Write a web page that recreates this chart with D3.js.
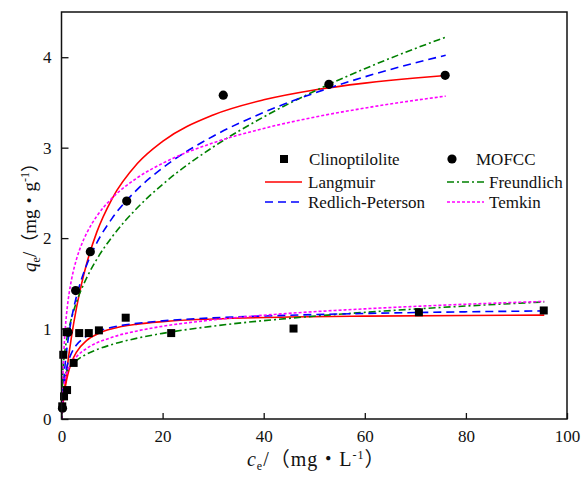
<!DOCTYPE html>
<html><head><meta charset="utf-8">
<script src="https://cdn.jsdelivr.net/npm/d3@7"></script>
<style>body{margin:0;background:#fff}svg{display:block}svg text{font-family:"Liberation Serif","Times New Roman","DejaVu Serif",serif;fill:#111}</style>
</head><body><svg id="c" width="582" height="481"></svg>
<script>
// Measured points
const clinoX = [0.15, 0.5, 0.35, 1.1, 1.0, 2.4, 3.5, 5.4, 7.4, 12.7, 21.7, 45.9, 70.7, 95.4];
const clinoY = [0.14, 0.25, 0.71, 0.32, 0.96, 0.62, 0.95, 0.95, 0.98, 1.12, 0.95, 1.00, 1.18, 1.20];
const mofX = [0.2, 1.3, 2.8, 5.7, 12.9, 32.0, 52.9, 75.9];
const mofY = [0.12, 0.96, 1.42, 1.85, 2.41, 3.58, 3.70, 3.80];

// Fitted curves (MOFCC, upper set)
const upX = [0.1, 0.2, 0.5, 1, 1.5, 2, 3, 4, 5, 7, 10, 15, 20, 30, 40, 50, 60, 70, 76];
const upLangmuir = [0.058, 0.115, 0.275, 0.516, 0.729, 0.918, 1.240, 1.503, 1.723, 2.069, 2.435, 2.824, 3.069, 3.361, 3.529, 3.638, 3.714, 3.771, 3.798];
const upRP = [0.125, 0.228, 0.468, 0.748, 0.952, 1.114, 1.363, 1.554, 1.707, 1.949, 2.218, 2.539, 2.776, 3.127, 3.390, 3.603, 3.783, 3.938, 4.022];
const upFreundX = [0.02, 0.05, 0.1, 0.2, 0.5, 1, 1.5, 2, 3, 4, 5, 7, 10, 15, 20, 30, 40, 50, 60, 70, 76];
const upFreund = [0.208, 0.291, 0.375, 0.483, 0.675, 0.869, 1.008, 1.119, 1.298, 1.441, 1.563, 1.768, 2.013, 2.335, 2.594, 3.007, 3.340, 3.624, 3.873, 4.097, 4.222];
const upTemkinX = [0.124, 0.15, 0.2, 0.3, 0.5, 0.75, 1, 1.5, 2, 3, 4, 5, 7, 10, 15, 20, 30, 40, 50, 60, 70, 76];
const upTemkin = [0, 0.107, 0.267, 0.492, 0.776, 1.002, 1.162, 1.387, 1.547, 1.773, 1.933, 2.057, 2.244, 2.442, 2.667, 2.827, 3.053, 3.213, 3.337, 3.438, 3.524, 3.570];

// Fitted curves (Clinoptilolite, lower set)
const loX = [0.1, 0.3, 0.6, 1, 1.5, 2, 3, 5, 7.5, 10, 15, 20, 30, 45, 60, 80, 95.5];
const loLangmuir = [0.064, 0.173, 0.302, 0.430, 0.544, 0.628, 0.743, 0.870, 0.951, 0.998, 1.049, 1.077, 1.106, 1.127, 1.137, 1.145, 1.149];
const loRPX = [0.1, 0.2, 0.5, 1, 1.5, 2, 3, 4, 5, 7, 10, 15, 20, 30, 45, 60, 80, 95.5];
const loRP = [0.110, 0.198, 0.382, 0.558, 0.662, 0.732, 0.822, 0.877, 0.916, 0.967, 1.014, 1.058, 1.085, 1.118, 1.147, 1.167, 1.185, 1.195];
const loFreundX = [0.005, 0.02, 0.05, 0.1, 0.2, 0.5, 1, 1.5, 2, 3, 5, 7, 10, 15, 20, 30, 45, 60, 80, 95.5];
const loFreund = [0.180, 0.238, 0.286, 0.328, 0.377, 0.453, 0.520, 0.564, 0.597, 0.648, 0.718, 0.767, 0.824, 0.894, 0.947, 1.027, 1.113, 1.179, 1.249, 1.294];
const loTemkinX = [0.059, 0.1, 0.2, 0.5, 1, 2, 3, 5, 10, 15, 20, 30, 45, 60, 80, 95.5];
const loTemkin = [0, 0.093, 0.214, 0.376, 0.498, 0.620, 0.691, 0.781, 0.903, 0.974, 1.025, 1.096, 1.168, 1.218, 1.269, 1.300];

const xTicks = [0, 20, 40, 60, 80, 100];
const yTicks = [0, 1, 2, 3, 4];

const SERIF = '"Liberation Serif","Times New Roman","DejaVu Serif",serif';
const CJK = '"Noto Sans CJK SC","Noto Sans CJK JP",sans-serif';

const svg = d3.select("#c");
const L = 61.5, R = 567, T = 12, B = 419;
const x = d3.scaleLinear().domain([0, 100]).range([L, R]);
const y = d3.scaleLinear().domain([0, 4.5]).range([B, T]);

svg.append("defs").append("clipPath").attr("id", "clip")
  .append("rect").attr("x", L).attr("y", T).attr("width", R - L).attr("height", B - T);

const zip = (xs, ys) => xs.map((v, i) => [v, ys[i]]);
const line = d3.line().x(d => x(d[0])).y(d => y(d[1])).curve(d3.curveMonotoneX);

const styles = {
  lang: {stroke: "#ff0000", dash: null},
  freund: {stroke: "#008000", dash: "7,3,2,3"},
  rp: {stroke: "#0000ff", dash: "8,5"},
  temkin: {stroke: "#ff00ff", dash: "3,2"}
};
const curves = [
  [upX, upLangmuir, "lang"], [upFreundX, upFreund, "freund"], [upX, upRP, "rp"], [upTemkinX, upTemkin, "temkin"],
  [loX, loLangmuir, "lang"], [loFreundX, loFreund, "freund"], [loRPX, loRP, "rp"], [loTemkinX, loTemkin, "temkin"]
];
const g = svg.append("g").attr("clip-path", "url(#clip)");
curves.forEach(([xs, ys, k]) => {
  g.append("path").attr("d", line(zip(xs, ys))).attr("fill", "none")
    .attr("stroke", styles[k].stroke).attr("stroke-width", 1.6)
    .attr("stroke-dasharray", styles[k].dash);
});

// markers
const sq = 8;
svg.append("g").selectAll("rect").data(zip(clinoX, clinoY)).join("rect")
  .attr("x", d => x(d[0]) - sq / 2).attr("y", d => y(d[1]) - sq / 2)
  .attr("width", sq).attr("height", sq).attr("fill", "#000");
svg.append("g").selectAll("circle").data(zip(mofX, mofY)).join("circle")
  .attr("cx", d => x(d[0])).attr("cy", d => y(d[1])).attr("r", 4.6).attr("fill", "#000");

// axes (inward ticks)
const xAxis = d3.axisBottom(x).tickValues(xTicks).tickSize(-6).tickPadding(11).tickFormat(d3.format("d"));
const yAxis = d3.axisLeft(y).tickValues(yTicks).tickSize(-7).tickPadding(14).tickFormat(d3.format("d"));
const gx = svg.append("g").attr("transform", `translate(0,${B})`).call(xAxis);
const gy = svg.append("g").attr("transform", `translate(${L},0)`).call(yAxis);
[gx, gy].forEach(a => {
  a.attr("font-family", SERIF).attr("font-size", 17);
  a.select(".domain").remove();
  a.selectAll("line").attr("stroke", "#111").attr("stroke-width", 1.3);
  a.selectAll("text").attr("fill", "#111");
});
gy.selectAll("text").attr("dx", 4);
// frame
svg.append("rect").attr("x", L).attr("y", T).attr("width", R - L).attr("height", B - T)
  .attr("fill", "none").attr("stroke", "#111").attr("stroke-width", 1.5);

// axis titles
function title(sel, sym, unit, pf) {
  sel.append("tspan").attr("font-style", "italic").text(sym);
  sel.append("tspan").attr("font-size", 12).attr("dy", 4).text("e");
  sel.append("tspan").attr("dy", -4).text("/");
  sel.append("tspan").attr("font-family", CJK).attr("font-size", pf).text("（");
  sel.append("tspan").text("mg");
  sel.append("tspan").attr("font-family", CJK).attr("font-size", pf).text("·");
  sel.append("tspan").text(unit);
  sel.append("tspan").attr("font-size", 12).attr("dy", -7).text("-1");
  sel.append("tspan").attr("dy", 7).attr("font-family", CJK).attr("font-size", pf).text("）");
}
const xt = svg.append("text").attr("x", (L + R) / 2 + 2).attr("y", 466).attr("text-anchor", "middle")
  .attr("font-family", SERIF).attr("font-size", 20).attr("letter-spacing", 1);
title(xt, "c", "L", 20);
const yt = svg.append("text").attr("transform", `translate(36,213) rotate(-90)`)
  .attr("text-anchor", "middle").attr("font-family", SERIF).attr("font-size", 19);
title(yt, "q", "g", 18);

// legend
const legendNames = ["Clinoptilolite", "MOFCC", "Langmuir", "Freundlich", "Redlich-Peterson", "Temkin"];
const leg = svg.append("g").attr("font-family", SERIF).attr("font-size", 17);
const lx1 = 265, lx2 = 447, ly = [159, 182, 202];
function legText(xp, yp, t) { leg.append("text").attr("x", xp).attr("y", yp + 6).text(t); }
leg.append("rect").attr("x", 284 - 4).attr("y", ly[0] - 4).attr("width", 8).attr("height", 8).attr("fill", "#000");
legText(309, ly[0], legendNames[0]);
leg.append("circle").attr("cx", 452).attr("cy", ly[0]).attr("r", 4.6).attr("fill", "#000");
legText(476, ly[0], legendNames[1]);
function legLine(xp, yp, k) {
  leg.append("line").attr("x1", xp).attr("x2", xp + 37).attr("y1", yp).attr("y2", yp)
    .attr("stroke", styles[k].stroke).attr("stroke-width", 1.6).attr("stroke-dasharray", styles[k].dash);
}
legLine(lx1, ly[1], "lang"); legText(308, ly[1], legendNames[2]);
legLine(lx2, ly[1], "freund"); legText(489, ly[1], legendNames[3]);
legLine(lx1, ly[2], "rp"); legText(308, ly[2], legendNames[4]);
legLine(lx2, ly[2], "temkin"); legText(489, ly[2], legendNames[5]);
</script></body></html>
